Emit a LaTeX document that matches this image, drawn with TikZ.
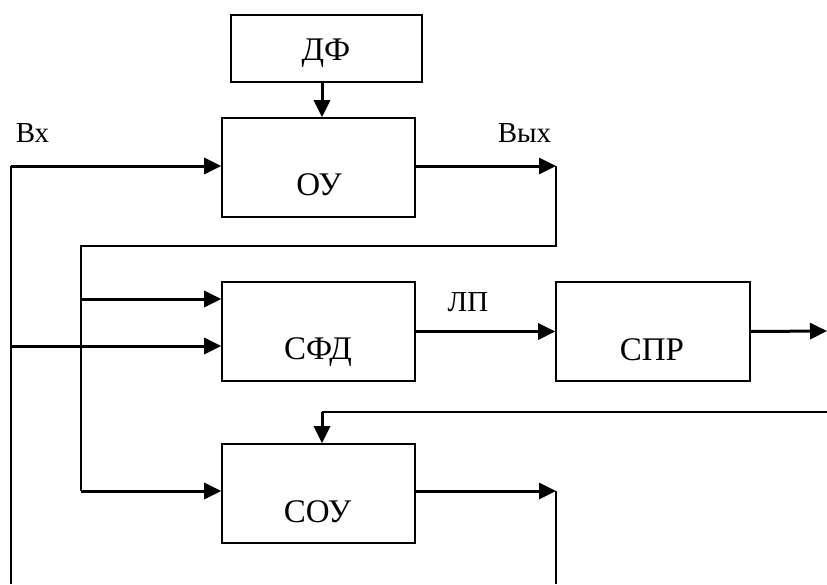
\documentclass[tikz,border=0pt]{standalone}
\usepackage{fontspec}
\setmainfont{Liberation Serif}
\usetikzlibrary{arrows.meta,calc}
\begin{document}
\begin{tikzpicture}[x=1pt,y=-1pt,
  blk/.style={draw,line width=1.6pt,inner sep=0pt},
  boxtxt/.style={anchor=base,inner sep=0pt,font=\fontsize{33}{33}\selectfont},
  lbl/.style={anchor=base,inner sep=0pt,font=\fontsize{29}{29}\selectfont},
  sig/.style={line width=3pt,-{Triangle[length=17pt,width=16pt]}},
  thin/.style={line width=1.8pt}]
\useasboundingbox (0,0) rectangle (827,584);
% blocks
\node[blk,minimum width=191pt,minimum height=67pt] (df) at (326.5,48.5) {};
\node[blk,minimum width=193pt,minimum height=99pt] (ou) at (318.5,167.5) {};
\node[blk,minimum width=193pt,minimum height=99pt] (sfd) at (318.5,331.5) {};
\node[blk,minimum width=194pt,minimum height=99pt] (spr) at (653,331.5) {};
\node[blk,minimum width=193pt,minimum height=99pt] (sou) at (318.5,493.5) {};
% texts
\node[boxtxt] (tdf) at (326,60) {ДФ};
\node[boxtxt] (tou) at (319,195) {ОУ};
\node[boxtxt] (tsfd) at (318,359) {СФД};
\node[boxtxt] (tspr) at (652,360) {СПР};
\node[boxtxt] (tsou) at (317.5,522) {СОУ};
\node[lbl] (lvx) at (32.5,142) {Вх};
\node[lbl] (lvyx) at (524.5,142) {Вых};
\node[lbl] (llp) at (468,311) {ЛП};
% coordinates
\coordinate (inA) at (11,166);
\coordinate (inB) at (11,346);
\coordinate (inE) at (11,584);
\coordinate (o1) at (556,166);
\coordinate (o2) at (556,246);
\coordinate (f1) at (81,246);
\coordinate (f2) at (81,299);
\coordinate (f3) at (81,491);
\coordinate (out) at (827,331);
\coordinate (r1) at (827,412);
\coordinate (r2) at (322,412);
\coordinate (s1) at (556,491);
\coordinate (s2) at (556,584);
% connectors
\draw[sig] (df.south -| r2) -- (ou.north -| r2);
\draw[sig] (inA) -- (inA -| ou.west);
\draw[thin] (inA) -- (inE);
\draw[sig] (inA -| ou.east) -- (o1);
\draw[thin] (o1) -- (o2) -- (f1) -- (f3);
\draw[sig] (f2) -- (f2 -| sfd.west);
\draw[sig] (inB) -- (inB -| sfd.west);
\draw[sig] (sfd.east) -- (spr.west);
\draw[sig] (spr.east) -- (out);
\draw[thin] (r1) -- (r2);
\draw[sig] (r2) -- (r2 |- sou.north);
\draw[sig] (f3) -- (f3 -| sou.west);
\draw[sig] (f3 -| sou.east) -- (s1);
\draw[thin] (s1) -- (s2);
\end{tikzpicture}
\end{document}
